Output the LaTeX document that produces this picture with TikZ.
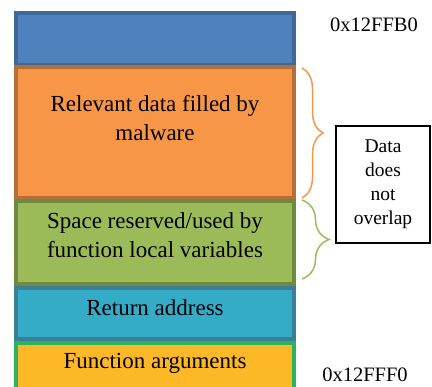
\documentclass[tikz,border=0pt]{standalone}
\usepackage{fontspec}
\setmainfont{Liberation Serif}
\usetikzlibrary{decorations.pathreplacing}

\definecolor{topfill}{HTML}{4F81BD}
\definecolor{topline}{HTML}{3F6797}
\definecolor{payfill}{HTML}{F79646}
\definecolor{payline}{HTML}{B5703A}
\definecolor{locfill}{HTML}{9BBB59}
\definecolor{locline}{HTML}{71893F}
\definecolor{retfill}{HTML}{34ACC8}
\definecolor{retline}{HTML}{3A7F94}
\definecolor{argfill}{HTML}{FDB827}
\definecolor{argline}{HTML}{2DB35C}

\begin{document}
\begin{tikzpicture}[x=1pt, y=-1pt,
  stackbox/.style={rectangle, minimum width=278pt, inner sep=0pt, line width=3.5pt},
  boxtext/.style={font=\fontsize{23}{29}\selectfont, align=center, inner sep=0pt},
  addrtext/.style={font=\fontsize{20.5}{24}\selectfont, inner sep=0pt},
  curly/.style={decorate, decoration={brace, amplitude=#1}, line width=1.5pt}]
  \useasboundingbox (0,0) rectangle (432,387);
  \clip (0,0) rectangle (432,387);

  % stack frame, bottom part first
  \node (args) at (155,371.5) [stackbox, fill=argfill, draw=argline, minimum height=57pt] {};
  \node (top) at (155,39) [stackbox, fill=topfill, draw=topline, minimum height=52pt] {};
  \node (payload) at (155,132.5) [stackbox, fill=payfill, draw=payline, minimum height=131pt] {};
  \node (locals) at (155,242.5) [stackbox, fill=locfill, draw=locline, minimum height=83pt] {};
  \node (retaddr) at (155,313.5) [stackbox, fill=retfill, draw=retline, minimum height=51pt] {};

  \node (paytxt) at (155,118) [boxtext] {Relevant data filled by\\malware};
  \node (loctxt) at (155,235.5) [boxtext] {Space reserved/used by\\function local variables};
  \node (rettxt) at (155,308) [boxtext] {Return address};
  \node (argtxt) at (155,363) [boxtext] {Function arguments};

  % addresses
  \node (hiaddr) at (374,25) [addrtext] {0x12FFB0};
  \node (loaddr) at (365,374.5) [addrtext] {0x12FFF0};

  % braces
  \coordinate (pb1) at (302,68);
  \coordinate (pb2) at (302,198);
  \coordinate (lb1) at (302,200);
  \coordinate (lb2) at (302,279);
  \draw[curly=21pt, payfill] (pb1) -- (pb2);
  \draw[curly=27pt, locfill] (lb1) -- (lb2);

  \node (note) at (383,184.5) [draw, line width=1.6pt, minimum width=94pt, minimum height=117pt,
    inner sep=0pt, align=center, font=\fontsize{19.5}{24}\selectfont] {Data\\does\\not\\overlap};
\end{tikzpicture}
\end{document}
